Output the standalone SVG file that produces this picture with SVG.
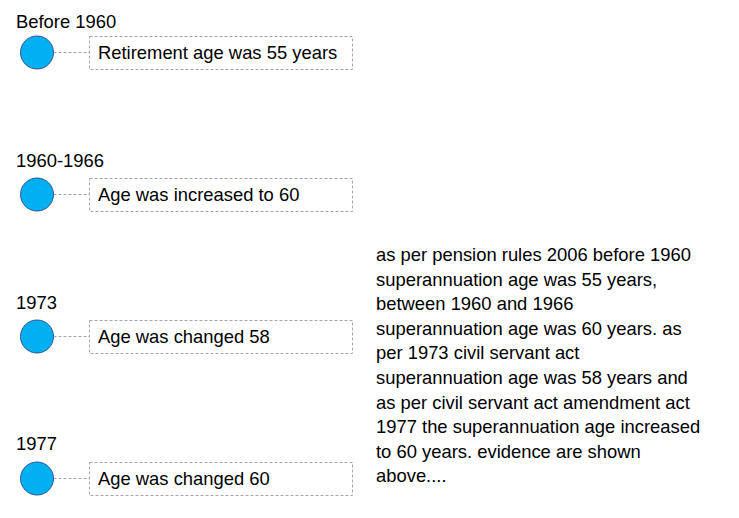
<svg xmlns="http://www.w3.org/2000/svg" width="739" height="518" viewBox="0 0 739 518">
<style>
text{font-family:"Liberation Sans",Arial,sans-serif;font-size:18.4px;fill:#000}
.dot{fill:#00B0F0;stroke:#2F5597;stroke-width:1}
.box{fill:#fff;stroke:#A6A6A6;stroke-width:1;stroke-dasharray:3 2}
.conn{stroke:#A6A6A6;stroke-width:1;stroke-dasharray:3 2;fill:none}
</style>
<rect width="739" height="518" fill="#fff"/>
<g id="connectors">
<line class="conn" x1="53.5" y1="52.5" x2="89.5" y2="52.5"/>
<line class="conn" x1="53.5" y1="194.5" x2="89.5" y2="194.5"/>
<line class="conn" x1="53.5" y1="336.5" x2="89.5" y2="336.5"/>
<line class="conn" x1="53.5" y1="478.5" x2="89.5" y2="478.5"/>
</g>
<g id="node1">
<text x="16" y="28">Before 1960</text>
<circle class="dot" cx="37" cy="52.5" r="16.5"/>
<rect class="box" x="89.5" y="36.5" width="263" height="33"/>
<text x="98" y="59">Retirement age was 55 years</text>
</g>
<g id="node2">
<text x="16" y="167">1960-1966</text>
<circle class="dot" cx="37" cy="194.5" r="16.5"/>
<rect class="box" x="89.5" y="178.5" width="263" height="33"/>
<text x="98" y="201">Age was increased to 60</text>
</g>
<g id="node3">
<text x="16" y="309">1973</text>
<circle class="dot" cx="37" cy="336.5" r="16.5"/>
<rect class="box" x="89.5" y="320.5" width="263" height="33"/>
<text x="98" y="343">Age was changed 58</text>
</g>
<g id="node4">
<text x="16" y="450">1977</text>
<circle class="dot" cx="37" cy="478.5" r="16.5"/>
<rect class="box" x="89.5" y="462.5" width="263" height="33"/>
<text x="98" y="485">Age was changed 60</text>
</g>
<g id="note">
<text x="376" y="261">as per pension rules 2006 before 1960</text>
<text x="376" y="285.6">superannuation age was 55 years,</text>
<text x="376" y="310.2">between 1960 and 1966</text>
<text x="376" y="334.8">superannuation age was 60 years. as</text>
<text x="376" y="359.4">per 1973 civil servant act</text>
<text x="376" y="384">superannuation age was 58 years and</text>
<text x="376" y="408.6">as per civil servant act amendment act</text>
<text x="376" y="433.2">1977 the superannuation age increased</text>
<text x="376" y="457.8">to 60 years. evidence are shown</text>
<text x="376" y="482.4">above....</text>
</g>
</svg>
